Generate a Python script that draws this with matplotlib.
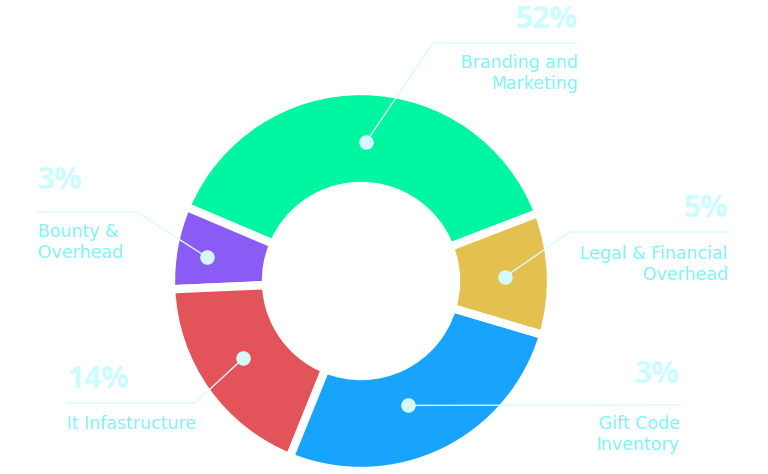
import matplotlib.pyplot as plt
import numpy as np

# slices, in the order they are drawn (counter-clockwise from the right)
labels = ["Branding and\nMarketing", "Bounty &\nOverhead", "It Infastructure",
          "Gift Code\nInventory", "Legal & Financial\nOverhead"]
shares = ["52%", "3%", "14%", "3%", "5%"]
# angular size of each slice, in degrees, as drawn in the picture
sizes = [136, 25.5, 65.5, 95.5, 37.5]
colors = ["#00f5a0", "#8a5cf5", "#e3535a", "#18a3fd", "#e3c04f"]

W, H = 768, 474
fig = plt.figure(figsize=(W / 100, H / 100), dpi=100)
ax = fig.add_axes([0, 0, 1, 1])

cx, cy, R = 361, H - 281, 190
wedges, _ = ax.pie(sizes, colors=colors, startangle=21, counterclock=True,
                   center=(cx, cy), radius=R,
                   wedgeprops=dict(width=R * 0.5, edgecolor="white", linewidth=6))

ax.set_xlim(0, W)
ax.set_ylim(0, H)
ax.set_aspect("equal")
ax.axis("off")

line_c = "#d9fbff"
dot_c = "#d5f8fb"
pct_c = "#ccfcfd"
lab_c = "#7df3fa"

# layout: dot radius (fraction of R), angle shift of dot, elbow point,
# end of underline, text anchor x, alignment, baseline of %, baseline of label
layout = [
    (0.73, -1, (433, 43), (578, 43), 578, "right", 28, 68),
    (0.82, 1.5, (137, 212), (38, 212), 38, "left", 189, 237),
    (0.74, -2, (195, 403), (67, 403), 67, "left", 388, 429),
    (0.70, -5, None, (680, 405), 680, "right", 383, 429),
    (0.76, -0.5, (570, 232), (730, 232), 728, "right", 217, 259),
]

for w, lab, pct, lay in zip(wedges, labels, shares, layout):
    fr, shift, elbow, end, tx, ha, py, ly = lay
    mid = np.deg2rad((w.theta1 + w.theta2) / 2 + shift)
    dx = cx + fr * R * np.cos(mid)
    dy = cy + fr * R * np.sin(mid)
    if elbow is None:
        xs = [dx, end[0]]
        ys = [dy, H - end[1]]
    else:
        xs = [dx, elbow[0], end[0]]
        ys = [dy, H - elbow[1], H - end[1]]
    ax.plot(xs, ys, color=line_c, lw=1, zorder=3)
    ax.scatter([dx], [dy], s=110, color=dot_c, zorder=4, linewidths=0)
    ax.text(tx, H - py, pct, ha=ha, va="baseline", fontsize=22,
            fontweight="bold", color=pct_c, family="Open Sans")
    for i, line in enumerate(lab.split("\n")):
        ax.text(tx, H - ly - i * 20.5, line, ha=ha, va="baseline",
                fontsize=12.5, color=lab_c, family="DejaVu Sans")

fig.savefig("out.png", dpi=100, facecolor="white")
